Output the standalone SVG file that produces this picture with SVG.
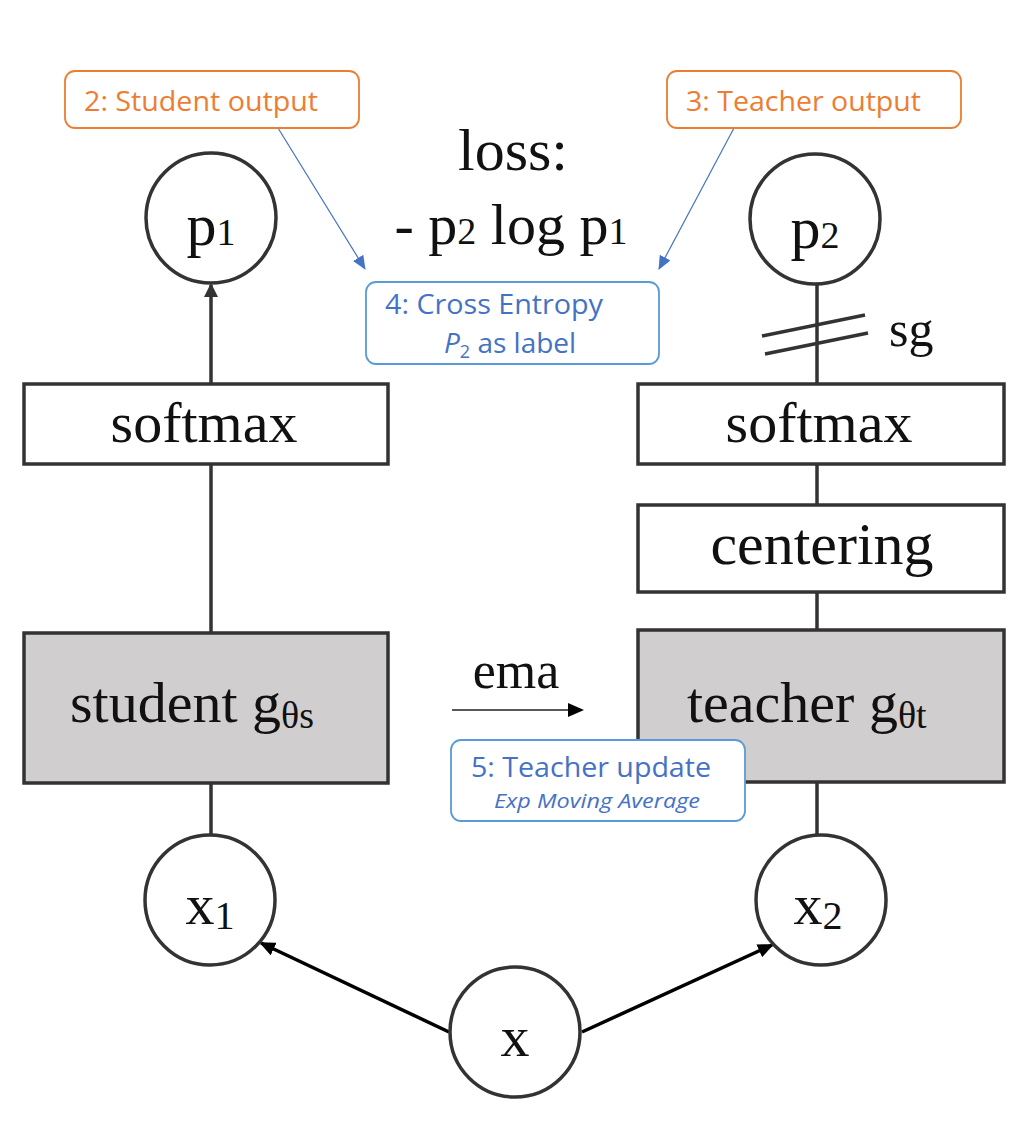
<svg xmlns="http://www.w3.org/2000/svg" width="1025" height="1137" viewBox="0 0 1025 1137">
<style>
.serif{font-family:"Liberation Serif","Times New Roman",serif;fill:#111}
.calibri{font-family:"Open Sans","Liberation Sans",sans-serif}
.node{fill:#fff;stroke:#333;stroke-width:3.5}
.gray{fill:#d0cece;stroke:#333;stroke-width:3.5}
.edge{stroke:#333;stroke-width:3.5;fill:none}
.orange{fill:#fff;stroke:#ed7d31;stroke-width:1.8}
.blue{fill:#fff;stroke:#5b9bd5;stroke-width:1.8}
.otext{fill:#ed7d31;font-size:28px}
.btext{fill:#4472c4;font-size:28px}
.bline{stroke:#4472c4;stroke-width:1.2;fill:none}
</style>
<defs>
<marker id="ahDark" markerWidth="14" markerHeight="14" refX="12" refY="7" orient="auto" markerUnits="userSpaceOnUse"><path d="M0,0 L14,7 L0,14 z" fill="#333"/></marker>
<marker id="ahBlack" markerWidth="16" markerHeight="14" refX="14" refY="7" orient="auto" markerUnits="userSpaceOnUse"><path d="M0,0 L16,7 L0,14 z" fill="#000"/></marker>
<marker id="ahBlue" markerWidth="14" markerHeight="12" refX="13" refY="6" orient="auto" markerUnits="userSpaceOnUse"><path d="M0,0 L14,6 L0,12 z" fill="#4472c4"/></marker>
</defs>
<rect width="1025" height="1137" fill="#fff"/>

<g id="connectors">
  <line class="edge" x1="211" y1="384" x2="211" y2="285" marker-end="url(#ahDark)"/>
  <line class="edge" x1="211" y1="464" x2="211" y2="632"/>
  <line class="edge" x1="211" y1="782" x2="211" y2="836"/>
  <line class="edge" x1="817" y1="284" x2="817" y2="384"/>
  <line class="edge" x1="817" y1="464" x2="817" y2="505"/>
  <line class="edge" x1="817" y1="592" x2="817" y2="630"/>
  <line class="edge" x1="817" y1="782" x2="817" y2="836"/>
  <line x1="762" y1="336" x2="865" y2="315" stroke="#333" stroke-width="3.5"/>
  <line x1="765" y1="354" x2="868" y2="333" stroke="#333" stroke-width="3.5"/>
  <line x1="449" y1="1032" x2="261" y2="943" stroke="#000" stroke-width="3.5" marker-end="url(#ahBlack)"/>
  <line x1="582" y1="1032" x2="772" y2="945" stroke="#000" stroke-width="3.5" marker-end="url(#ahBlack)"/>
  <line x1="452" y1="710" x2="582" y2="710" stroke="#222" stroke-width="1.6" marker-end="url(#ahBlack)"/>
  <line class="bline" x1="278" y1="128" x2="365" y2="269" marker-end="url(#ahBlue)"/>
  <line class="bline" x1="734" y1="128" x2="659" y2="269" marker-end="url(#ahBlue)"/>
</g>

<g id="p1">
  <circle class="node" cx="211" cy="218" r="65"/>
  <text class="serif" x="211" y="245" text-anchor="middle" font-size="60">p<tspan font-size="38">1</tspan></text>
</g>
<g id="p2">
  <circle class="node" cx="815" cy="219" r="65"/>
  <text class="serif" x="815" y="248" text-anchor="middle" font-size="60">p<tspan font-size="38">2</tspan></text>
</g>
<g id="sg">
  <text class="serif" x="889" y="346" font-size="50">sg</text>
</g>
<g id="loss">
  <text class="serif" x="513" y="170" text-anchor="middle" font-size="60">loss:</text>
  <text class="serif" x="511" y="244" text-anchor="middle" font-size="58">- p<tspan font-size="38">2</tspan> log p<tspan font-size="38">1</tspan></text>
</g>
<g id="softmax-student">
  <rect class="node" x="24" y="384" width="364" height="80"/>
  <text class="serif" x="204" y="442" text-anchor="middle" font-size="58">softmax</text>
</g>
<g id="softmax-teacher">
  <rect class="node" x="638" y="384" width="366" height="80"/>
  <text class="serif" x="819" y="442" text-anchor="middle" font-size="58">softmax</text>
</g>
<g id="centering">
  <rect class="node" x="638" y="505" width="366" height="87"/>
  <text class="serif" x="822" y="564" text-anchor="middle" font-size="60">centering</text>
</g>
<g id="student">
  <rect class="gray" x="24" y="633" width="364" height="150"/>
  <text class="serif" x="70" y="722" font-size="58">student g<tspan font-size="38" dy="6">θs</tspan></text>
</g>
<g id="teacher">
  <rect class="gray" x="638" y="630" width="366" height="152"/>
  <text class="serif" x="687" y="722" font-size="58">teacher g<tspan font-size="38" dy="6">θt</tspan></text>
</g>
<g id="ema">
  <text class="serif" x="516" y="688" text-anchor="middle" font-size="52">ema</text>
</g>
<g id="x1">
  <circle class="node" cx="210" cy="900" r="65"/>
  <text class="serif" x="210" y="924" text-anchor="middle" font-size="58">x<tspan font-size="40" dy="5">1</tspan></text>
</g>
<g id="x2">
  <circle class="node" cx="821" cy="900" r="65"/>
  <text class="serif" x="818" y="924" text-anchor="middle" font-size="58">x<tspan font-size="40" dy="5">2</tspan></text>
</g>
<g id="x">
  <circle class="node" cx="515" cy="1032" r="65"/>
  <text class="serif" x="515" y="1056" text-anchor="middle" font-size="58">x</text>
</g>

<g id="note-student-output">
  <rect class="orange" x="65" y="71" width="294" height="57" rx="10"/>
  <text class="calibri otext" x="84" y="111" textLength="234" lengthAdjust="spacingAndGlyphs">2: Student output</text>
</g>
<g id="note-teacher-output">
  <rect class="orange" x="667" y="71" width="294" height="57" rx="10"/>
  <text class="calibri otext" x="686" y="111" textLength="235" lengthAdjust="spacingAndGlyphs">3: Teacher output</text>
</g>
<g id="note-cross-entropy">
  <rect class="blue" x="366" y="282" width="293" height="82" rx="10"/>
  <text class="calibri btext" x="385" y="314" textLength="218" lengthAdjust="spacingAndGlyphs">4: Cross Entropy</text>
  <text class="calibri btext" x="444" y="353"><tspan font-style="italic">P</tspan><tspan font-size="18" dy="5">2</tspan><tspan dy="-5"> as label</tspan></text>
</g>
<g id="note-teacher-update">
  <rect class="blue" x="451" y="740" width="294" height="81" rx="10"/>
  <text class="calibri btext" x="471" y="777" textLength="240" lengthAdjust="spacingAndGlyphs">5: Teacher update</text>
  <text class="calibri" x="494" y="808" fill="#4472c4" font-size="20" font-style="italic" textLength="206" lengthAdjust="spacingAndGlyphs">Exp Moving Average</text>
</g>
</svg>
